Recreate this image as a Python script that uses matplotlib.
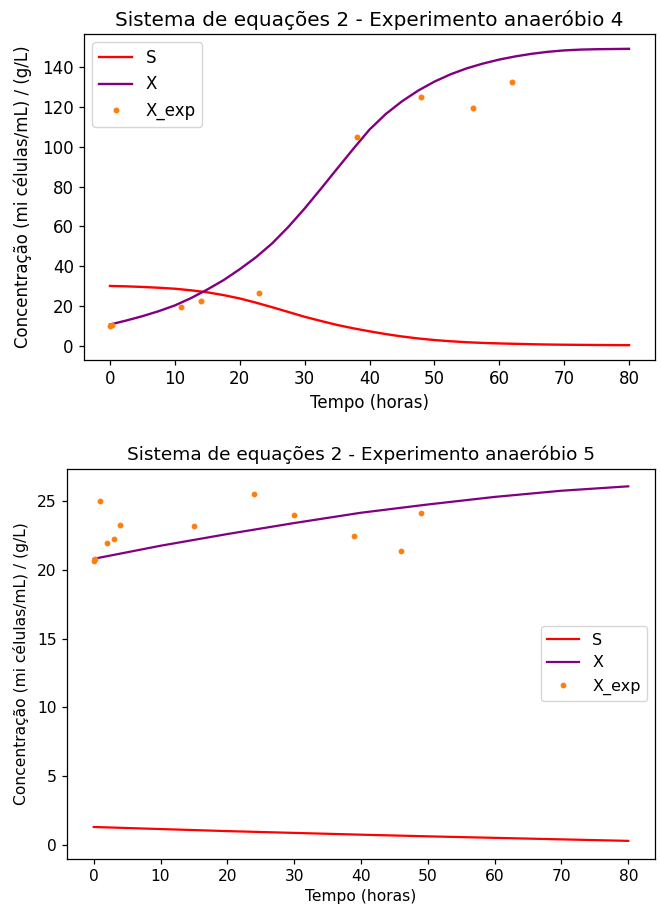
import matplotlib
matplotlib.use("Agg")
import matplotlib.pyplot as plt

# ---- Experiment 4 (top) ----
t4_model = [0, 2.5, 5, 7.5, 10, 12.5, 15, 17.5, 20, 22.5, 25, 27.5, 30, 32.5, 35, 37.5,
            40, 42.5, 45, 47.5, 50, 52.5, 55, 57.5, 60, 62.5, 65, 67.5, 70, 72.5, 75, 77.5, 80]
S4 = [30.1, 29.9, 29.6, 29.2, 28.7, 27.9, 26.9, 25.5, 23.8, 21.7, 19.4, 17.0, 14.6, 12.5, 10.5, 8.8,
      7.3, 5.9, 4.7, 3.7, 2.9, 2.3, 1.8, 1.45, 1.2, 1.0, 0.8, 0.65, 0.55, 0.48, 0.42, 0.37, 0.32]
X4 = [10.7, 12.7, 14.9, 17.4, 20.3, 24.0, 28.3, 33.0, 38.5, 44.5, 51.5, 59.8, 69.0, 78.9, 89.0, 99.0,
      108.7, 116.5, 122.9, 128.3, 132.8, 136.5, 139.5, 141.9, 143.9, 145.5, 146.8, 147.8, 148.5, 148.9, 149.1, 149.2, 149.3]
t4_exp = [0, 0.3, 11, 14, 23, 38, 48, 56, 62]
X4_exp = [10.1, 10.7, 19.6, 22.7, 26.5, 105.2, 125.0, 119.4, 132.4]

# ---- Experiment 5 (bottom) ----
t5_model = [0, 10, 20, 30, 40, 50, 60, 70, 80]
S5 = [1.30, 1.15, 1.00, 0.87, 0.74, 0.62, 0.51, 0.40, 0.29]
X5 = [20.8, 21.75, 22.6, 23.4, 24.15, 24.75, 25.3, 25.75, 26.07]
t5_exp = [0, 0.2, 1, 2, 3, 4, 15, 24, 30, 39, 46, 49]
X5_exp = [20.65, 20.8, 25.0, 21.96, 22.22, 23.24, 23.15, 25.5, 23.98, 22.46, 21.35, 24.15]

xlabel = "Tempo (horas)"
ylabel = "Concentração (mi células/mL) / (g/L)"
title4 = "Sistema de equações 2 - Experimento anaeróbio 4"
title5 = "Sistema de equações 2 - Experimento anaeróbio 5"

fig = plt.figure(figsize=(6.61, 9.11), dpi=100)

ax1 = fig.add_axes([84/661, (911-360)/911, 571/661, 326/911])
ax1.plot(t4_model, S4, color="red", label="S", lw=1.7)
ax1.plot(t4_model, X4, color="purple", label="X", lw=1.7)
ax1.plot(t4_exp, X4_exp, ".", color="C1", label="X_exp", ms=6.5)
ax1.set_title(title4, fontsize=14.4)
ax1.set_xlabel(xlabel, fontsize=12)
ax1.set_ylabel(ylabel, fontsize=12, labelpad=7)
ax1.tick_params(labelsize=12, width=0.9, length=3.8)
ax1.set_xticks(range(0, 81, 10))
ax1.set_yticks(range(0, 141, 20))
ax1.legend(loc="upper left", fontsize=12)
for s in ax1.spines.values():
    s.set_linewidth(0.9)

ax2 = fig.add_axes([67/661, (911-858.6)/911, 588/661, 390/911])
ax2.plot(t5_model, S5, color="red", label="S", lw=1.6)
ax2.plot(t5_model, X5, color="purple", label="X", lw=1.6)
ax2.plot(t5_exp, X5_exp, ".", color="C1", label="X_exp", ms=6.3)
ax2.set_title(title5, fontsize=13.3)
ax2.set_xlabel(xlabel, fontsize=11.2)
ax2.set_ylabel(ylabel, fontsize=11.2, labelpad=6)
ax2.tick_params(labelsize=11.2, width=0.9, length=3.8)
ax2.set_xticks(range(0, 81, 10))
ax2.legend(loc="center right", fontsize=11.5)
for s in ax2.spines.values():
    s.set_linewidth(0.9)

fig.savefig("out.png", dpi=100)
